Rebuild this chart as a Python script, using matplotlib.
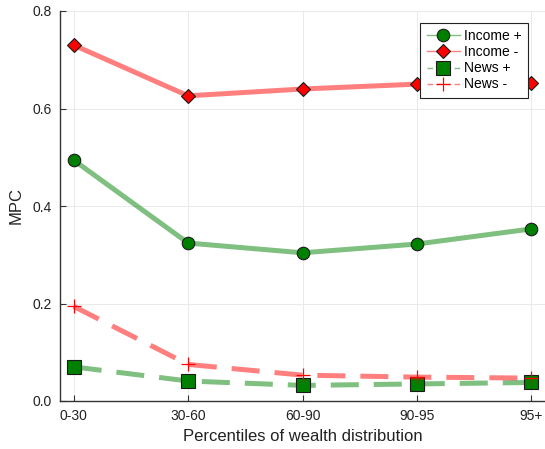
import matplotlib
matplotlib.use("Agg")
import matplotlib.pyplot as plt
from matplotlib.lines import Line2D

categories = ["0-30", "30-60", "60-90", "90-95", "95+"]
income_pos = [0.494, 0.324, 0.304, 0.322, 0.353]
income_neg = [0.730, 0.626, 0.640, 0.650, 0.652]
news_pos = [0.070, 0.041, 0.032, 0.035, 0.038]
news_neg = [0.194, 0.075, 0.053, 0.049, 0.047]
yticks = [0.0, 0.2, 0.4, 0.6, 0.8]

plt.rcParams['font.family'] = ['Liberation Sans', 'DejaVu Sans']

W, H = 545, 449
fig = plt.figure(figsize=(W / 100, H / 100), dpi=100)
ax = fig.add_axes([60 / W, 1 - 401 / H, (W - 60) / W, 390 / H])

x = list(range(1, len(categories) + 1))
green_line = (0.0, 0.5, 0.0, 0.5)
red_line = (1.0, 0.0, 0.0, 0.5)
lw = 3.6
dash = (0, (5.6, 3.0))

styles = [
    dict(data=income_pos, color=green_line, ls='-', marker='o', ms=9,
         mfc='#008000', mec='#1a1a1a', mew=0.8, label='Income +'),
    dict(data=income_neg, color=red_line, ls='-', marker='D', ms=7.5,
         mfc='#ff0000', mec='#1a1a1a', mew=0.8, label='Income -'),
    dict(data=news_pos, color=green_line, ls=dash, marker='s', ms=10,
         mfc='#008000', mec='#1a1a1a', mew=0.8, label='News +'),
    dict(data=news_neg, color=red_line, ls=dash, marker='+', ms=10,
         mfc='#ff0000', mec='#ff0000', mew=0.9, label='News -'),
]

handles = []
for st in styles:
    ax.plot(x, st['data'], color=st['color'], lw=lw, ls=st['ls'],
            marker=st['marker'], ms=st['ms'], mfc=st['mfc'], mec=st['mec'],
            mew=st['mew'], zorder=3)
    hls = '-' if st['ls'] == '-' else (0, (4, 2.5))
    handles.append(Line2D([], [], color=st['color'], lw=1.0, ls=hls,
                          marker=st['marker'], ms=st['ms'], mfc=st['mfc'],
                          mec=st['mec'], mew=st['mew'], label=st['label']))

ax.set_xlim(0.88, 5.12)
ax.set_ylim(0, 0.8)
ax.set_xticks(x)
ax.set_xticklabels(categories)
ax.set_yticks(yticks)
ax.set_yticklabels([f"{v:.1f}" for v in yticks])
ax.grid(True, color='#e6e6e6', lw=0.6)
ax.set_axisbelow(True)

for s in ['top', 'right']:
    ax.spines[s].set_visible(False)
for s in ['left', 'bottom']:
    ax.spines[s].set_color('#333333')
    ax.spines[s].set_linewidth(1.0)
ax.tick_params(direction='in', length=4, width=0.8, color='#333333',
               labelsize=10, labelcolor='#222222', pad=6)

ax.set_xlabel("Percentiles of wealth distribution", fontsize=12, color='#222222', labelpad=4)
ax.set_ylabel("MPC", fontsize=12, color='#222222', labelpad=6)

leg = ax.legend(handles=handles, loc='upper right',
                bbox_to_anchor=(1 - 17 / 485, 1 - 12 / 390),
                fontsize=10, frameon=True, fancybox=False, borderpad=0.45,
                handlelength=2.4, handletextpad=0.3, labelspacing=0.15,
                borderaxespad=0, framealpha=1)
leg.get_frame().set_edgecolor('#222222')
leg.get_frame().set_linewidth(0.8)

fig.savefig("out.png", dpi=100)
